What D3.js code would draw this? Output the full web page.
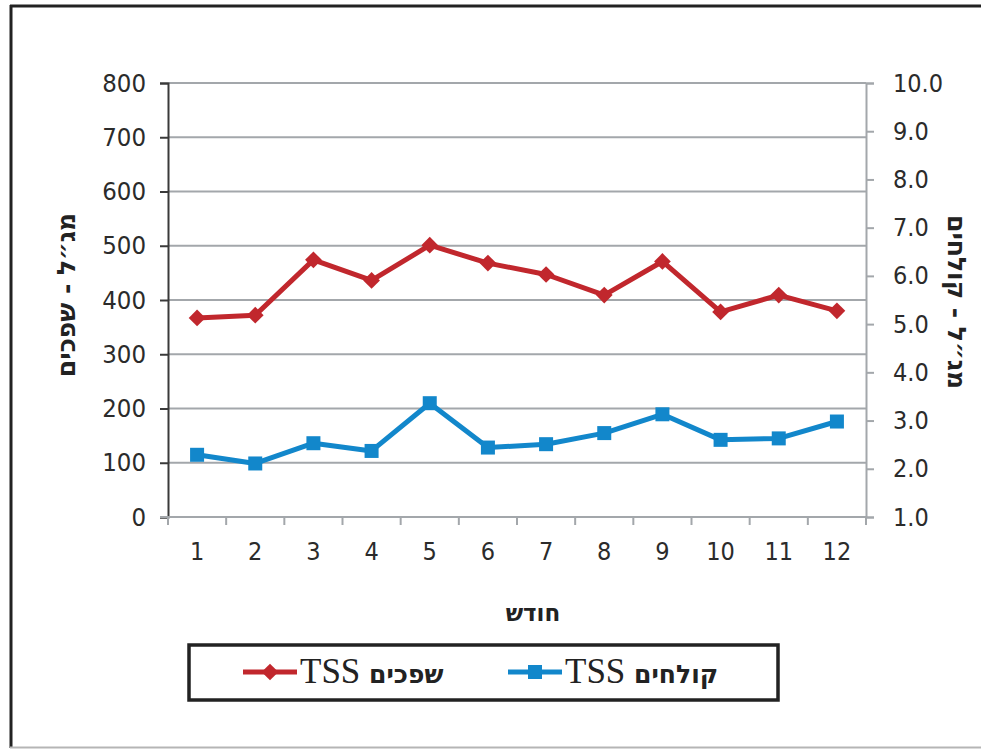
<!DOCTYPE html>
<html>
<head>
<meta charset="utf-8">
<script src="https://cdn.jsdelivr.net/npm/d3@7"></script>
<style>
  body { margin: 0; background: #fff; }
  svg { display: block; }
</style>
</head>
<body>
<div id="chart"></div>
<script>
// monthly TSS values
const months = [1, 2, 3, 4, 5, 6, 7, 8, 9, 10, 11, 12];
const sludgeTSS = [367, 372, 474, 436, 501, 468, 447, 409, 471, 378, 409, 380];      // left axis
const effluentTSS = [2.29, 2.11, 2.53, 2.37, 3.36, 2.44, 2.51, 2.74, 3.13, 2.60, 2.63, 2.98]; // right axis
const leftTicks = [0, 100, 200, 300, 400, 500, 600, 700, 800];
const rightTicks = [1, 2, 3, 4, 5, 6, 7, 8, 9, 10];

const seriesNames = ["שפכים", "קולחים"];
const leftTitle = "מג״ל - שפכים";
const rightTitle = "מג״ל - קולחים";
const xTitle = "חודש";

const W = 981, H = 749;
const plot = { left: 168, right: 866, top: 83, bottom: 517 };
const red = "#c1272d", blue = "#1287cb";
const numFont = "'DejaVu Sans Condensed', 'DejaVu Sans', sans-serif";
const hebFont = "'DejaVu Sans', sans-serif";

const svg = d3.select("#chart").append("svg")
    .attr("width", W)
    .attr("height", H);

// outer frame (left + top dark, bottom thin grey)
svg.append("line").attr("x1", 11).attr("x2", 11).attr("y1", 5).attr("y2", 748)
    .attr("stroke", "#222").attr("stroke-width", 3);
svg.append("line").attr("x1", 10).attr("x2", W).attr("y1", 6).attr("y2", 6)
    .attr("stroke", "#222").attr("stroke-width", 3);
svg.append("line").attr("x1", 10).attr("x2", W).attr("y1", 747.5).attr("y2", 747.5)
    .attr("stroke", "#b5b5b5").attr("stroke-width", 2);

const x = d3.scaleBand().domain(months).range([plot.left, plot.right]);
const yL = d3.scaleLinear().domain([0, 800]).range([plot.bottom, plot.top]);
const yR = d3.scaleLinear().domain([1, 10]).range([plot.bottom, plot.top]);

// gridlines
svg.append("g").selectAll("line")
  .data(leftTicks.slice(1))
  .join("line")
    .attr("x1", plot.left).attr("x2", plot.right)
    .attr("y1", d => yL(d)).attr("y2", d => yL(d))
    .attr("stroke", "#a3a7ab").attr("stroke-width", 2);

// left axis
const gl = svg.append("g")
    .attr("transform", `translate(${plot.left},0)`)
    .call(d3.axisLeft(yL).tickValues(leftTicks).tickSize(8).tickPadding(14).tickFormat(d3.format("d")));
gl.select(".domain").attr("stroke", "#3a3a3a").attr("stroke-width", 2);
gl.selectAll(".tick line").attr("stroke", "#3a3a3a").attr("stroke-width", 2);
gl.selectAll("text").attr("font-family", numFont).attr("font-size", 25.5).attr("fill", "#2b2b2b");

// right axis
const gr = svg.append("g")
    .attr("transform", `translate(${plot.right},0)`)
    .call(d3.axisRight(yR).tickValues(rightTicks).tickSize(8).tickPadding(19).tickFormat(d3.format(".1f")));
gr.select(".domain").attr("stroke", "#a3a7ab").attr("stroke-width", 2);
gr.selectAll(".tick line").attr("stroke", "#a3a7ab").attr("stroke-width", 2);
gr.selectAll("text").attr("font-family", numFont).attr("font-size", 25).attr("fill", "#2b2b2b");

// x axis: ticks between categories
const gx = svg.append("g").attr("transform", `translate(0,${plot.bottom})`);
gx.append("line").attr("x1", plot.left - 8).attr("x2", plot.right)
    .attr("stroke", "#a3a7ab").attr("stroke-width", 2);
gx.selectAll(".tk")
  .data(months.map(m => x(m)).concat([plot.right]))
  .join("line")
    .attr("class", "tk")
    .attr("x1", d => d).attr("x2", d => d).attr("y1", 0).attr("y2", 8)
    .attr("stroke", "#a3a7ab").attr("stroke-width", 2);
gx.selectAll("text")
  .data(months)
  .join("text")
    .attr("x", d => x(d) + x.bandwidth() / 2)
    .attr("y", 43)
    .attr("text-anchor", "middle")
    .attr("font-family", numFont).attr("font-size", 25).attr("fill", "#2b2b2b")
    .text(d => d);

// lines
const cx = i => x(months[i]) + x.bandwidth() / 2;
const lineL = d3.line().x((d, i) => cx(i)).y(d => yL(d));
const lineR = d3.line().x((d, i) => cx(i)).y(d => yR(d));

svg.append("path").datum(sludgeTSS)
    .attr("d", lineL).attr("fill", "none")
    .attr("stroke", red).attr("stroke-width", 5).attr("stroke-linejoin", "round");
svg.append("path").datum(effluentTSS)
    .attr("d", lineR).attr("fill", "none")
    .attr("stroke", blue).attr("stroke-width", 5).attr("stroke-linejoin", "round");

svg.append("g").selectAll("path")
  .data(sludgeTSS)
  .join("path")
    .attr("transform", (d, i) => `translate(${cx(i)},${yL(d)}) rotate(45)`)
    .attr("d", d3.symbol().type(d3.symbolSquare).size(140))
    .attr("fill", red);

svg.append("g").selectAll("rect")
  .data(effluentTSS)
  .join("rect")
    .attr("x", (d, i) => cx(i) - 7).attr("y", d => yR(d) - 7)
    .attr("width", 14).attr("height", 14)
    .attr("fill", blue);

// axis titles
svg.append("text")
    .attr("transform", "translate(66,295) rotate(-90)")
    .attr("text-anchor", "middle").attr("dominant-baseline", "central")
    .attr("font-family", hebFont).attr("font-weight", "bold").attr("font-size", 25).attr("fill", "#222")
    .text(leftTitle);
svg.append("text")
    .attr("transform", "translate(956,302) rotate(90)")
    .attr("text-anchor", "middle").attr("dominant-baseline", "central")
    .attr("font-family", hebFont).attr("font-weight", "bold").attr("font-size", 25).attr("fill", "#222")
    .text(rightTitle);
svg.append("text")
    .attr("x", 533).attr("y", 621)
    .attr("text-anchor", "middle")
    .attr("font-family", hebFont).attr("font-weight", "bold").attr("font-size", 23).attr("fill", "#222")
    .text(xTitle);

// legend
svg.append("rect")
    .attr("x", 189).attr("y", 645).attr("width", 589).attr("height", 55)
    .attr("fill", "none").attr("stroke", "#222").attr("stroke-width", 3.5);

const legendItems = [
  { name: seriesNames[0], color: red, shape: "diamond", x0: 243 },
  { name: seriesNames[1], color: blue, shape: "square", x0: 508 }
];
const lg = svg.append("g").selectAll("g").data(legendItems).join("g")
    .attr("transform", d => `translate(${d.x0},672)`);
lg.append("line").attr("x1", 0).attr("x2", 54)
    .attr("stroke", d => d.color).attr("stroke-width", 5);
lg.filter(d => d.shape === "diamond").append("path")
    .attr("transform", "translate(27,0) rotate(45)")
    .attr("d", d3.symbol().type(d3.symbolSquare).size(140))
    .attr("fill", d => d.color);
lg.filter(d => d.shape === "square").append("rect")
    .attr("x", 20).attr("y", -7).attr("width", 14).attr("height", 14)
    .attr("fill", d => d.color);
const lt = lg.append("text").attr("x", 57).attr("y", 11).attr("fill", "#222");
lt.append("tspan").attr("font-family", "'Liberation Serif', serif").attr("font-size", 35).text("TSS ");
lt.append("tspan").attr("font-family", hebFont).attr("font-weight", "bold").attr("font-size", 25)
    .text(d => d.name);
</script>
</body>
</html>
